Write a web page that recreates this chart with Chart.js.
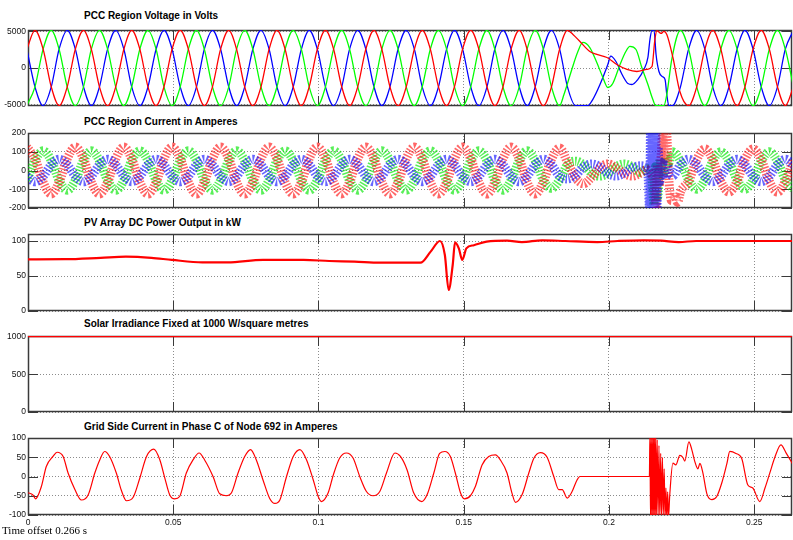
<!DOCTYPE html>
<html>
<head>
<meta charset="utf-8">
<title>PCC scope</title>
<script src="https://cdn.jsdelivr.net/npm/chart.js@4.4.1/dist/chart.umd.min.js"></script>
<style>
  body { margin: 0; background: #fff; }
  #page { position: relative; width: 793px; height: 540px; overflow: hidden; background: #fff; }
  #page canvas { position: absolute; left: 0; }
  .tit { position: absolute; left: 84px; font: bold 10px "Liberation Sans", Arial, sans-serif; line-height: 12px; color: #000; white-space: nowrap; }
  #offset { position: absolute; left: 2px; top: 524px; font: 11px "Liberation Serif", "Times New Roman", serif; line-height: 13px; color: #000; }
</style>
</head>
<body>
<div id="page">
  <div class="tit" style="top:10px">PCC Region Voltage in Volts</div>
  <div class="tit" style="top:116px">PCC Region Current in Amperes</div>
  <div class="tit" style="top:217px">PV Array DC Power Output in kW</div>
  <div class="tit" style="top:318px">Solar Irradiance Fixed at 1000 W/square metres</div>
  <div class="tit" style="top:421px">Grid Side Current in Phase C of Node 692 in Amperes</div>
  <canvas id="volt" width="793" height="92" style="top:22px"></canvas>
  <canvas id="amp" width="793" height="91" style="top:125px"></canvas>
  <canvas id="pv" width="793" height="93" style="top:226px"></canvas>
  <canvas id="sun" width="793" height="92" style="top:328px"></canvas>
  <canvas id="grid" width="793" height="101" style="top:430px"></canvas>
  <div id="offset">Time offset 0.266 s</div>
</div>
<script>
// all times in ms, axis shows seconds
var xTicks = [0, 50, 100, 150, 200, 250];
var xTickLabels = ['0', '0.05', '0.1', '0.15', '0.2', '0.25'];

var yTicksVolt = [-5000, 0, 5000];
var yTicksAmp = [-200, -100, 0, 100, 200];
var yTicksPv = [0, 50, 100];
var yTicksSun = [0, 500, 1000];
var yTicksGrid = [-100, -50, 0, 50, 100];

// sample instants of the 60 Hz waves (one every 60 deg)
var tGrid = [-0.4,
  2.4, 5.2, 8.0, 10.7, 13.5, 16.3,
  19.1, 21.8, 24.6, 27.4, 30.2, 33.0,
  35.7, 38.5, 41.3, 44.1, 46.8, 49.6,
  52.4, 55.2, 58.0, 60.7, 63.5, 66.3,
  69.1, 71.8, 74.6, 77.4, 80.2, 83.0,
  85.7, 88.5, 91.3, 94.1, 96.8, 99.6,
  102.4, 105.2, 108.0, 110.7, 113.5, 116.3,
  119.1, 121.8, 124.6, 127.4, 130.2, 133.0,
  135.7, 138.5, 141.3, 144.1, 146.8, 149.6,
  152.4, 155.2, 158.0, 160.7, 163.5, 166.3,
  169.1, 171.8, 174.6, 177.4, 180.2, 183.0,
  185.7, 188.5, 191.3, 194.1, 196.8, 199.6,
  202.4, 205.2, 208.0, 210.7, 213.5, 216.3,
  219.1, 221.8, 224.6, 227.4, 230.2, 233.0,
  235.7, 238.5, 241.3, 244.1, 246.8, 249.6,
  252.4, 255.2, 258.0, 260.7, 263.5];

// PCC voltage, volts (null = see fault arrays)
var vRed = [2575,
  5150, 2575, -2575, -5150, -2575, 2575,
  5150, 2575, -2575, -5150, -2575, 2575,
  5150, 2575, -2575, -5150, -2575, 2575,
  5150, 2575, -2575, -5150, -2575, 2575,
  5150, 2575, -2575, -5150, -2575, 2575,
  5150, 2575, -2575, -5150, -2575, 2575,
  5150, 2575, -2575, -5150, -2575, 2575,
  5150, 2575, -2575, -5150, -2575, 2575,
  5150, 2575, -2575, -5150, -2575, 2575,
  5150, 2575, -2575, -5150, -2575, 2575,
  5150, 2575, -2575, -5150, -2575, 2575,
  5150, null, null, null, null, null,
  null, null, null, null, null, null,
  null, null, null, -5150, -2575, 2575,
  5150, 2575, -2575, -5150, -2575, 2575,
  5150, 2575, -2575, -5150, -2575];
var vGreen = [-5150,
  -2575, 2575, 5150, 2575, -2575, -5150,
  -2575, 2575, 5150, 2575, -2575, -5150,
  -2575, 2575, 5150, 2575, -2575, -5150,
  -2575, 2575, 5150, 2575, -2575, -5150,
  -2575, 2575, 5150, 2575, -2575, -5150,
  -2575, 2575, 5150, 2575, -2575, -5150,
  -2575, 2575, 5150, 2575, -2575, -5150,
  -2575, 2575, 5150, 2575, -2575, -5150,
  -2575, 2575, 5150, 2575, -2575, -5150,
  -2575, 2575, 5150, 2575, -2575, -5150,
  -2575, 2575, 5150, 2575, -2575, -5150,
  null, null, null, null, null, null,
  null, null, null, null, null, null,
  null, null, null, 2575, -2575, -5150,
  -2575, 2575, 5150, 2575, -2575, -5150,
  -2575, 2575, 5150, 2575, -2575];
var vBlue = [2575,
  -2575, -5150, -2575, 2575, 5150, 2575,
  -2575, -5150, -2575, 2575, 5150, 2575,
  -2575, -5150, -2575, 2575, 5150, 2575,
  -2575, -5150, -2575, 2575, 5150, 2575,
  -2575, -5150, -2575, 2575, 5150, 2575,
  -2575, -5150, -2575, 2575, 5150, 2575,
  -2575, -5150, -2575, 2575, 5150, 2575,
  -2575, -5150, -2575, 2575, 5150, 2575,
  -2575, -5150, -2575, 2575, 5150, 2575,
  -2575, -5150, -2575, 2575, 5150, 2575,
  -2575, -5150, -2575, 2575, 5150, 2575,
  -2575, -5150, null, null, null, null,
  null, null, null, null, null, null,
  null, -5150, -2575, 2575, 5150, 2575,
  -2575, -5150, -2575, 2575, 5150, 2575,
  -2575, -5150, -2575, 2575, 5150];

// voltage during the fault
var vRedFaultT = [187.6, 190.0, 193.4, 195.8, 199.3, 202.7, 206.2, 209.6, 213.0, 214.8, 215.8, 216.5, 217.9, 218.9, 219.9, 222.0, 224.4];
var vRedFaultV = [4590, 3630, 2260, 1850, 1440, 480, -200, -480, -200, 200, 3900, 5100, 4730, 5000, 4590, 1440, -3220];
var vGreenFaultT = [184.5, 187.2, 189.3, 191.0, 193.4, 195.8, 197.9, 199.6, 201.3, 203.8, 205.8, 207.2, 209.3, 211.3, 213.4, 215.1, 216.1, 218.9, 219.9, 221.6, 224.6];
var vGreenFaultV = [-3630, -200, 2260, 3500, 2800, 750, -1300, -2670, -2120, 480, 2260, 2950, 2530, 70, -2260, -4320, -5150, -5150, -3630, 1160, 5150];
var vBlueFaultT = [192.7, 194.4, 196.9, 199.6, 200.6, 202.4, 204.5, 206.5, 207.9, 209.9, 212.0, 213.4, 214.1, 214.8, 215.5, 216.2, 217.2, 218.3, 219.3, 219.9, 220.6];
var vBlueFaultV = [-5150, -4320, -2260, 480, 1620, 890, -890, -2120, -2260, -1580, -200, 1440, 3900, 5150, 5150, 1850, -480, -1160, -1580, -3630, -5150];

// PCC current, amperes (fundamental, ripple shown by the band)
var iRed = [125,
  63, -63, -125, -63, 63, 125,
  63, -63, -125, -63, 63, 125,
  63, -63, -125, -63, 63, 125,
  63, -63, -125, -63, 63, 125,
  63, -63, -125, -63, 63, 125,
  63, -63, -125, -63, 63, 125,
  63, -63, -125, -63, 63, 125,
  63, -63, -125, -63, 63, 125,
  63, -63, -125, -63, 63, 125,
  63, -63, -125, -63, 63, 125,
  63, -63, -125, -60, 60, 120,
  45, -40, -70, -35, 15, 35,
  15, -15, -30, -15, null, null,
  null, null, -115, -58, 58, 115,
  58, -58, -115, -58, 58, 115,
  58, -58, -115, -58, 58];
var iGreen = [-53,
  53, 105, 53, -53, -105, -53,
  53, 105, 53, -53, -105, -53,
  53, 105, 53, -53, -105, -53,
  53, 105, 53, -53, -105, -53,
  53, 105, 53, -53, -105, -53,
  53, 105, 53, -53, -105, -53,
  53, 105, 53, -53, -105, -53,
  53, 105, 53, -53, -105, -53,
  53, 105, 53, -53, -105, -53,
  53, 105, 53, -53, -105, -53,
  53, 105, 53, -50, -95, -50,
  30, 50, 30, -15, -30, -15,
  20, 35, 20, -10, null, null,
  null, 100, 50, -50, -100, -50,
  50, 100, 50, -50, -100, -50,
  50, 100, 50, -50, -100];
var iBlue = [-30,
  -60, -30, 30, 60, 30, -30,
  -60, -30, 30, 60, 30, -30,
  -60, -30, 30, 60, 30, -30,
  -60, -30, 30, 60, 30, -30,
  -60, -30, 30, 60, 30, -30,
  -60, -30, 30, 60, 30, -30,
  -60, -30, 30, 60, 30, -30,
  -60, -30, 30, 60, 30, -30,
  -60, -30, 30, 60, 30, -30,
  -60, -30, 30, 60, 30, -30,
  -60, -30, 30, 60, 30, -30,
  -45, -25, 20, 35, 20, -15,
  -30, -15, 15, 25, null, null,
  null, -30, 30, 60, 30, -30,
  -60, -30, 30, 60, 30, -30,
  -60, -30, 30, 60, 30];

var iRedFaultT = [213.0, 214.6, 215.6, 216.2, 216.7, 217.3, 218.0, 218.6, 219.2, 219.8, 220.4, 221.5, 222.6, 223.6];
var iRedFaultV = [5, -20, -60, -190, 30, -80, 90, 210, 40, 210, 0, -160, -130, -170];
var iGreenFaultT = [213.5, 214.8, 215.5, 216.0, 216.8, 217.6, 218.6, 219.6, 220.5];
var iGreenFaultV = [10, -40, -180, 20, -140, 60, -30, 70, 40];
var iBlueFaultT = [213.3, 214.0, 214.3, 214.6, 214.9, 215.2, 215.5, 215.8, 216.1, 216.5, 216.9, 217.4, 218.2, 219.0, 220.0, 221.0];
var iBlueFaultV = [10, -210, 210, -210, 210, -210, 210, -210, 210, -210, 120, -60, 40, -20, 30, -10];

// PV array DC power, kW
var pvT = [0, 12.8, 25.0, 33.7, 42.5, 49.5,
  60.0, 68.7, 80.9, 94.9, 103.7, 112.4,
  121.2, 135.1, 138.6, 141.8, 143.5, 144.8,
  146.2, 147.0, 148.3, 149.5, 150.9, 153.5,
  157.9, 164.9, 170.0, 177.0, 185.0, 196.0,
  203.0, 212.0, 218.0, 224.0, 230.0, 263.0];
var pvV = [73.8, 74, 76, 77.6, 76, 73,
  69.5, 69.5, 73, 73, 71.4, 70.5,
  69, 69, 84.8, 100, 80, 30,
  65.7, 98, 89.5, 72.9, 89.5, 94,
  99, 100.5, 98.5, 101, 100, 98.5,
  100, 101, 100.5, 98.5, 100, 100];

// irradiance, W/m2
var sunT = [0, 263];
var sunV = [1000, 1000];

// grid side current phase C, amperes
var gcT = [0, 1.7, 2.6, 4.6, 6.3, 8.6,
  10.0, 12.1, 13.8, 16.1, 18.4, 20.7,
  23.0, 24.7, 26.4, 28.1, 30.4, 32.1,
  33.9, 36.2, 38.5, 40.8, 43.3, 45.4,
  47.1, 48.8, 50.5, 52.2, 54.5, 56.8,
  58.9, 60.8, 63.7, 66.0, 68.3, 70.0,
  72.3, 74.6, 76.6, 78.6, 80.9, 83.2,
  85.0, 86.7, 89.0, 91.3, 93.6, 95.9,
  98.2, 99.9, 101.0, 103.3, 105.1, 107.3,
  109.6, 111.9, 114.2, 116.5, 118.8, 121.1,
  123.4, 126.3, 128.2, 130.5, 132.8, 135.6,
  137.4, 139.7, 141.7, 143.5, 145.4, 147.1,
  148.9, 150.2, 152.3, 154.0, 156.3, 158.6,
  160.9, 162.6, 164.9, 166.6, 167.8, 170.1,
  172.4, 174.1, 176.4, 178.7, 181.0, 182.7,
  183.9, 185.6, 187.3, 189.0, 190.0, 213.9,
  214.1, 214.3, 214.5, 214.7, 214.9, 215.1,
  215.3, 215.5, 215.7, 215.9, 216.1, 216.3,
  216.6, 216.9, 217.2, 217.5, 217.8, 218.1,
  218.4, 218.7, 219.0, 219.3, 219.6, 219.9,
  220.2, 220.5, 220.9, 222.0, 223.0, 224.4,
  225.4, 226.1, 227.5, 228.5, 229.5, 230.6,
  231.3, 232.3, 233.7, 235.4, 237.1, 238.9,
  240.6, 241.6, 243.7, 245.7, 247.8, 249.5,
  251.9, 253.7, 255.4, 257.1, 259.2, 260.9,
  263.4];
var gcV = [-42, -48, -58, -26, 26, 52,
  63, 52, 9, -33, -61, -48,
  9, 43, 65, 52, 9, -35,
  -63, -54, -4, 52, 71, 43,
  -4, -48, -58, -52, 9, 43,
  61, 43, 0, -45, -50, -43,
  9, 52, 70, 43, -9, -57,
  -70, -61, 0, 52, 70, 43,
  -9, -52, -65, -43, 4, 48,
  61, 48, 0, -39, -50, -39,
  9, 61, 52, 17, -43, -65,
  -47, 9, 60, 65, 52, 9,
  -43, -58, -50, -26, 30, 52,
  56, 43, 9, -43, -67, -47,
  9, 47, 62, 50, 0, -34,
  -34, -56, -39, -9, 0, 0,
  110, -110, 110, -110, 110, -110,
  110, -110, 110, -110, 110, -110,
  95, -110, 80, -110, 60, -110,
  50, -100, 20, -110, -30, -110,
  -40, -105, -50, 35, 30, 55,
  50, 40, 90, 70, 40, 20,
  34, 10, -45, -60, -52, -15,
  34, 65, 60, 47, -22, -30,
  -65, -30, 10, 50, 82, 62,
  30];

function serie(t, v, extraT, extraV) {
  var pts = [];
  for (var i = 0; i < t.length; i++) {
    if (v[i] !== null) pts.push({x: t[i], y: v[i]});
  }
  if (extraT) {
    for (var j = 0; j < extraT.length; j++) pts.push({x: extraT[j], y: extraV[j]});
  }
  pts.sort(function(a, b) { return a.x - b.x; });
  return pts;
}

var TICK_LEN = 10;
var tickFont = {family: '"Liberation Sans Narrow", "Liberation Sans", Arial, sans-serif', size: 8.5};

// box round the plot + short inner tick marks, like the scope
var marco = {
  id: 'marco',
  beforeDatasetsDraw: function(chart) {
    var ctx = chart.ctx, a = chart.chartArea;
    var sx = chart.scales.x, sy = chart.scales.y;
    ctx.save();
    ctx.strokeStyle = '#3a3a3a';
    ctx.lineWidth = 1;
    ctx.beginPath();
    sx.ticks.forEach(function(t) {
      var px = Math.round(sx.getPixelForValue(t.value)) + 0.5;
      ctx.moveTo(px, a.top); ctx.lineTo(px, a.top + TICK_LEN);
      ctx.moveTo(px, a.bottom); ctx.lineTo(px, a.bottom - TICK_LEN);
    });
    sy.ticks.forEach(function(t) {
      var py = Math.round(sy.getPixelForValue(t.value)) + 0.5;
      ctx.moveTo(a.left, py); ctx.lineTo(a.left + TICK_LEN, py);
      ctx.moveTo(a.right, py); ctx.lineTo(a.right - TICK_LEN, py);
    });
    ctx.stroke();
    ctx.lineWidth = 1.5;
    ctx.strokeRect(a.left + 0.5, a.top + 0.5, a.right - a.left - 1, a.bottom - a.top - 1);
    ctx.restore();
  }
};

function panel(id, yMin, yMax, yTicks, datasets, conEje) {
  return new Chart(document.getElementById(id), {
    type: 'line',
    data: {datasets: datasets},
    options: {
      responsive: false,
      animation: false,
      devicePixelRatio: 1,
      events: [],
      layout: {padding: {top: 8, bottom: conEje ? 2 : 8, left: 0, right: 1}},
      plugins: {legend: {display: false}, tooltip: {enabled: false}, title: {display: false}},
      elements: {point: {radius: 0}, line: {cubicInterpolationMode: 'monotone'}},
      scales: {
        x: {
          type: 'linear', min: 0, max: 263,
          afterBuildTicks: function(s) { s.ticks = xTicks.map(function(v) { return {value: v}; }); },
          afterFit: function(s) { s.height = conEje ? 14 : 0; },
          grid: {color: '#8c8c8c', lineWidth: 1, drawTicks: false},
          border: {display: false, dash: [1, 2]},
          ticks: {
            display: !!conEje, padding: 3, maxRotation: 0, autoSkip: false,
            font: tickFont, color: '#111',
            callback: function(v, i) { return xTickLabels[i]; }
          }
        },
        y: {
          min: yMin, max: yMax,
          afterBuildTicks: function(s) { s.ticks = yTicks.map(function(v) { return {value: v}; }); },
          afterFit: function(s) { s.width = 28; },
          grid: {color: '#8c8c8c', lineWidth: 1, drawTicks: false},
          border: {display: false, dash: [1, 2]},
          ticks: {
            padding: 2, autoSkip: false, font: tickFont, color: '#111',
            callback: function(v) { return String(v); }
          }
        }
      }
    },
    plugins: [marco]
  });
}

function linea(data, color, width, dash) {
  return {data: data, borderColor: color, borderWidth: width, borderDash: dash || [], fill: false, clip: 0};
}

panel('volt', -5200, 5200, yTicksVolt, [
  linea(serie(tGrid, vRed, vRedFaultT, vRedFaultV), '#ff0000', 1.3),
  linea(serie(tGrid, vGreen, vGreenFaultT, vGreenFaultV), '#00ff00', 1.3),
  linea(serie(tGrid, vBlue, vBlueFaultT, vBlueFaultV), '#0000ff', 1.3)
]);

// switching ripple: thick striped band round each fundamental
panel('amp', -200, 200, yTicksAmp, [
  linea(serie(tGrid, iBlue, iBlueFaultT, iBlueFaultV), 'rgba(0,0,255,0.6)', 9, [1.5, 1.5]),
  linea(serie(tGrid, iRed, iRedFaultT, iRedFaultV), 'rgba(255,0,0,0.6)', 9, [1.5, 1.5]),
  linea(serie(tGrid, iGreen, iGreenFaultT, iGreenFaultV), 'rgba(0,230,0,0.65)', 9, [1.5, 1.5])
]);

panel('pv', 0, 110, yTicksPv, [
  linea(serie(pvT, pvV), '#ff0000', 2.2)
]);

panel('sun', 0, 1005, yTicksSun, [
  linea(serie(sunT, sunV), '#ff0000', 1.5)
]);

panel('grid', -100, 100, yTicksGrid, [
  linea(serie(gcT, gcV), '#ff0000', 1.2)
], true);
</script>
</body>
</html>
